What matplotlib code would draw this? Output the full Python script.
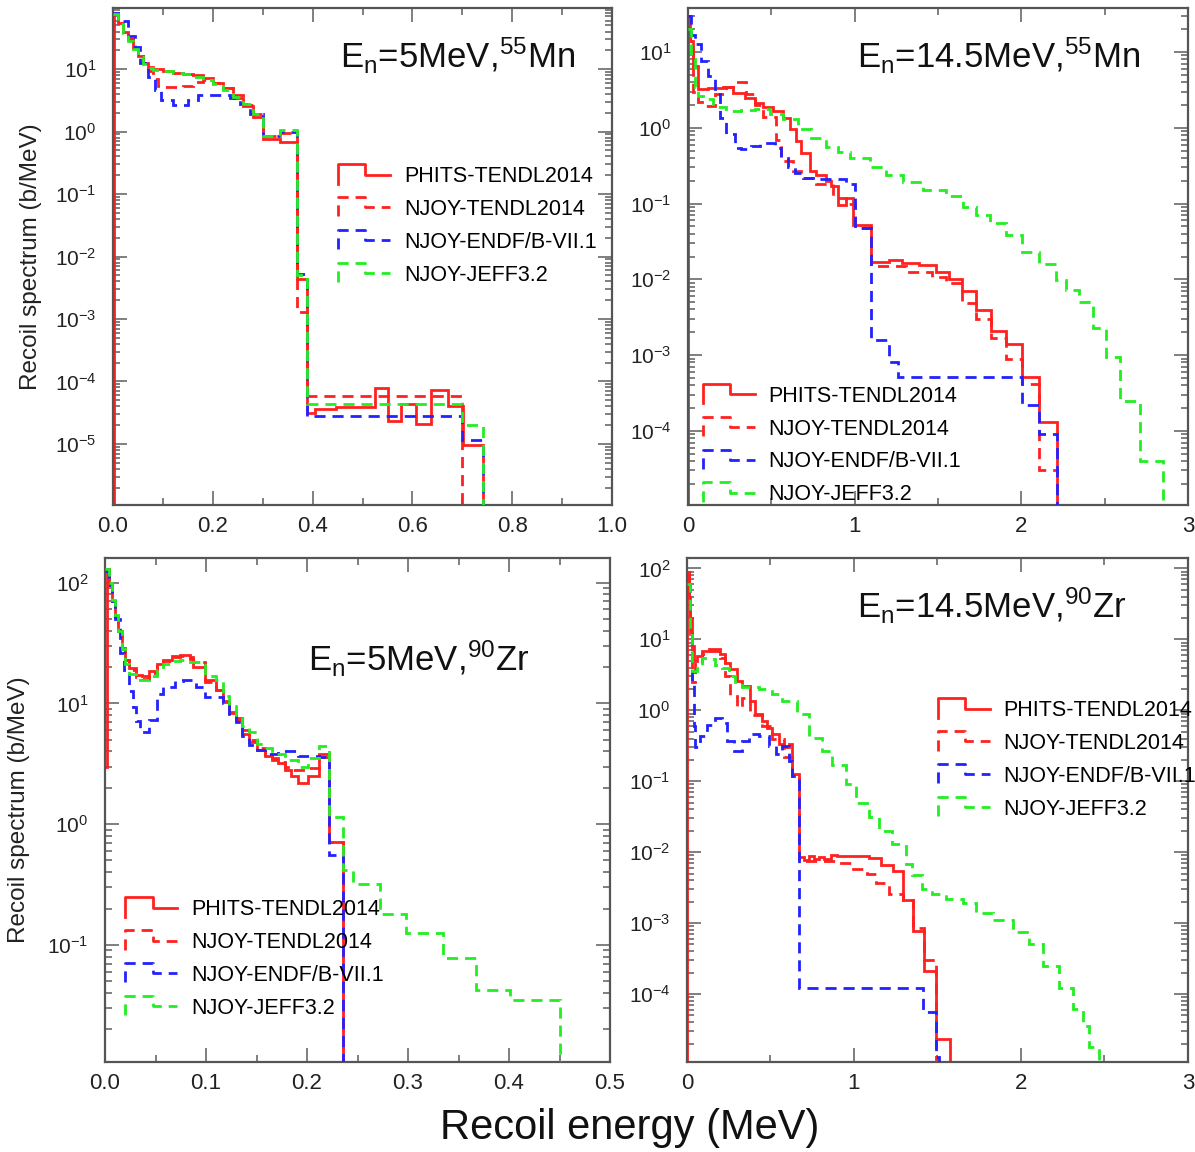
import numpy as np
import matplotlib
matplotlib.use("Agg")
import matplotlib.pyplot as plt
from matplotlib.lines import Line2D
from matplotlib.legend_handler import HandlerBase
from matplotlib.ticker import LogLocator, MultipleLocator, NullFormatter

plt.rcParams["font.family"] = ["Liberation Sans", "DejaVu Sans"]
plt.rcParams["mathtext.default"] = "regular"

labels = ["PHITS-TENDL2014", "NJOY-TENDL2014", "NJOY-ENDF/B-VII.1", "NJOY-JEFF3.2"]
colors = ["#ff2020", "#ff2020", "#2222ff", "#22ee22"]

# ---- En = 5 MeV, 55Mn -------------------------------------------------------
mn5_phits_e = [0, 0.001, 0.01, 0.02, 0.03, 0.04, 0.05, 0.06, 0.07, 0.08,
               0.10, 0.12, 0.14, 0.16, 0.18, 0.20, 0.22, 0.24, 0.26, 0.28,
               0.30, 0.335, 0.368, 0.388, 0.404, 0.447, 0.524, 0.551, 0.578, 0.608,
               0.638, 0.671, 0.701, 0.741, 0.76]
mn5_phits_v = [0, 80, 55, 40, 30, 22, 16, 12.5, 11, 10,
               9.2, 8.8, 8.4, 8.2, 7.2, 6.0, 5.0, 3.5, 2.6, 1.7,
               0.77, 0.67, 0.0044, 3.1e-5, 3.6e-5, 3.9e-5, 7.8e-5, 2.3e-5, 4.3e-5, 2.1e-5,
               7.4e-5, 4.0e-5, 9.5e-6, 0]
mn5_tendl_e = [0, 0.01, 0.02, 0.03, 0.04, 0.05, 0.06, 0.07, 0.08, 0.09, 0.10,
               0.12, 0.14, 0.16, 0.18, 0.20, 0.22, 0.24, 0.26, 0.28, 0.30,
               0.335, 0.368, 0.388, 0.70, 0.76]
mn5_tendl_v = [80, 55, 40, 30, 22, 16, 12.5, 9.5, 7.0, 5.3,
               5.2, 5.2, 5.4, 6.3, 6.8, 6.0, 5.0, 3.8, 2.7, 1.9,
               0.85, 0.95, 1.3e-3, 5.8e-5, 0]
mn5_endf_e = [0, 0.01, 0.02, 0.03, 0.044, 0.054, 0.07, 0.084, 0.097, 0.12,
              0.15, 0.17, 0.207, 0.234, 0.254, 0.274, 0.30, 0.335, 0.368, 0.388,
              0.70, 0.741, 0.76]
mn5_endf_v = [80, 62, 60, 34, 23, 12.4, 7.5, 4.6, 3.2, 2.7,
              3.2, 3.8, 3.9, 3.5, 2.8, 1.9, 0.85, 1.0, 0.0052, 2.8e-5,
              1.15e-5, 0]
mn5_jeff_e = [0, 0.01, 0.02, 0.03, 0.04, 0.05, 0.06, 0.07, 0.08, 0.10,
              0.12, 0.14, 0.16, 0.18, 0.20, 0.22, 0.24, 0.26, 0.28, 0.30,
              0.335, 0.368, 0.388, 0.70, 0.741, 0.76]
mn5_jeff_v = [75, 52, 38, 28, 21, 15.5, 12, 10.5, 9.8, 9.2,
              8.8, 8.4, 7.6, 6.8, 5.8, 4.7, 3.6, 2.8, 1.9, 0.85,
              1.05, 0.0050, 4.4e-5, 2.0e-5, 0]

# ---- En = 14.5 MeV, 55Mn ----------------------------------------------------
mn14_phits_e = [0, 0.002, 0.015, 0.03, 0.06, 0.12, 0.21, 0.27, 0.34, 0.40,
                0.45, 0.51, 0.57, 0.61, 0.65, 0.68, 0.73, 0.77, 0.83, 0.86,
                0.90, 0.95, 0.99, 1.096, 1.206, 1.286, 1.386, 1.486, 1.566, 1.646,
                1.726, 1.816, 1.906, 2.006, 2.106, 2.216, 2.3]
mn14_phits_v = [0, 30, 14, 6.5, 3.2, 3.3, 3.4, 2.9, 2.5, 2.1,
                1.9, 1.66, 1.36, 0.95, 0.67, 0.47, 0.27, 0.24, 0.20, 0.17,
                0.096, 0.12, 0.052, 0.017, 0.018, 0.0165, 0.0155, 0.0126, 0.010, 0.0071,
                0.0039, 0.0021, 0.0014, 5.1e-4, 1.3e-4, 0]
mn14_tendl_e = [0, 0.015, 0.03, 0.06, 0.10, 0.16, 0.23, 0.27, 0.35, 0.40,
                0.45, 0.53, 0.56, 0.63, 0.68, 0.77, 0.87, 0.95, 1.0, 1.096,
                1.306, 1.466, 1.546, 1.646, 1.726, 1.816, 1.906, 2.006, 2.106, 2.216,
                2.3]
mn14_tendl_v = [30, 14, 3.0, 2.2, 1.95, 2.8, 3.4, 4.0, 2.8, 2.0,
                1.4, 0.7, 0.36, 0.27, 0.22, 0.18, 0.12, 0.10, 0.047, 0.0148,
                0.0126, 0.0107, 0.0089, 0.0048, 0.003, 0.0017, 9e-4, 4.2e-4, 3e-5, 0]
mn14_endf_e = [0, 0.02, 0.04, 0.08, 0.12, 0.16, 0.19, 0.23, 0.28, 0.32,
               0.38, 0.43, 0.52, 0.56, 0.60, 0.64, 0.69, 0.75, 0.95, 1.0,
               1.096, 1.206, 1.26, 2.006, 2.106, 2.216, 2.3]
mn14_endf_v = [30, 17, 12.7, 7.6, 4.8, 2.8, 1.36, 0.82, 0.54, 0.52,
               0.57, 0.63, 0.54, 0.40, 0.30, 0.25, 0.22, 0.21, 0.18, 0.048,
               0.0016, 8e-4, 5.1e-4, 2.2e-4, 9e-5, 0]
mn14_jeff_e = [0, 0.02, 0.04, 0.06, 0.09, 0.15, 0.23, 0.32, 0.40, 0.49,
               0.57, 0.66, 0.74, 0.83, 0.90, 0.97, 1.09, 1.19, 1.29, 1.41,
               1.55, 1.65, 1.73, 1.81, 1.906, 2.006, 2.106, 2.206, 2.266, 2.346,
               2.43, 2.51, 2.59, 2.71, 2.85, 2.95]
mn14_jeff_v = [20, 8, 3.5, 2.6, 2.4, 1.9, 1.66, 1.7, 1.75, 1.5,
               1.29, 0.95, 0.74, 0.55, 0.48, 0.40, 0.30, 0.24, 0.19, 0.15,
               0.125, 0.09, 0.07, 0.055, 0.039, 0.023, 0.016, 0.0098, 0.0073, 0.005,
               0.0023, 9.5e-4, 2.5e-4, 4e-5, 0]

# ---- En = 5 MeV, 90Zr -------------------------------------------------------
zr5_phits_e = [0, 0.0015, 0.004, 0.007, 0.010, 0.013, 0.0165, 0.020, 0.024, 0.031,
               0.037, 0.044, 0.051, 0.057, 0.066, 0.074, 0.084, 0.087, 0.0985, 0.110,
               0.117, 0.123, 0.130, 0.136, 0.143, 0.150, 0.158, 0.165, 0.171, 0.178,
               0.184, 0.191, 0.201, 0.212, 0.222, 0.2355, 0.25]
zr5_phits_v = [3, 130, 95, 70, 52, 40, 28, 23, 19.6, 17.3,
               17, 18.5, 21, 23, 24.8, 25, 23.5, 20, 15.5, 12.9,
               10.3, 8.3, 7.3, 5.6, 4.8, 4.1, 3.7, 3.4, 3.2, 2.8,
               2.5, 2.2, 2.5, 3.8, 0.71, 0]
zr5_tendl_e = [0, 0.004, 0.007, 0.010, 0.013, 0.0165, 0.020, 0.024, 0.031, 0.037,
               0.044, 0.051, 0.057, 0.066, 0.074, 0.084, 0.087, 0.0985, 0.110, 0.117,
               0.123, 0.130, 0.136, 0.143, 0.150, 0.158, 0.165, 0.171, 0.178, 0.184,
               0.191, 0.201, 0.212, 0.222, 0.2355, 0.25]
zr5_tendl_v = [125, 95, 70, 52, 40, 29, 23, 19, 16.5, 16,
               18, 20.5, 22.5, 24, 24.5, 24, 22, 15, 13, 10.5,
               8.5, 7.5, 6.0, 5.0, 4.3, 3.8, 3.5, 3.3, 3.0, 2.8,
               2.8, 2.9, 3.6, 0.71, 0]
zr5_endf_e = [0, 0.004, 0.007, 0.010, 0.0144, 0.019, 0.024, 0.0276, 0.031, 0.035,
              0.044, 0.051, 0.057, 0.069, 0.077, 0.090, 0.0985, 0.117, 0.123, 0.130,
              0.136, 0.143, 0.150, 0.158, 0.171, 0.191, 0.212, 0.222, 0.2355, 0.25]
zr5_endf_v = [125, 95, 70, 50, 26, 19, 12.6, 9.4, 7.1, 5.8,
              7.3, 12, 13.7, 15.2, 15.5, 13.7, 11.4, 10, 8.2, 7.0,
              5.4, 4.5, 4.1, 3.8, 4.0, 3.7, 3.6, 0.55, 0]
zr5_jeff_e = [0, 0.004, 0.007, 0.010, 0.013, 0.0165, 0.020, 0.024, 0.031, 0.037,
              0.044, 0.051, 0.057, 0.066, 0.074, 0.084, 0.0985, 0.110, 0.117, 0.123,
              0.130, 0.136, 0.143, 0.150, 0.158, 0.165, 0.178, 0.191, 0.201, 0.212,
              0.222, 0.2355, 0.2454, 0.2718, 0.298, 0.3345, 0.3675, 0.4005, 0.45, 0.47]
zr5_jeff_v = [130, 100, 72, 54, 40, 28, 21, 17.5, 15.5, 15.5,
              17, 19, 21, 22.5, 23, 22, 17, 15.5, 11.5, 9.5,
              8.0, 6.5, 5.8, 4.6, 4.3, 3.8, 3.4, 3.0, 3.5, 4.4,
              1.15, 0.42, 0.32, 0.18, 0.125, 0.078, 0.042, 0.035, 0]

# ---- En = 14.5 MeV, 90Zr ----------------------------------------------------
zr14_phits_e = [0, 0.002, 0.01, 0.02, 0.03, 0.04, 0.06, 0.09, 0.13, 0.20,
                0.23, 0.26, 0.30, 0.33, 0.38, 0.41, 0.45, 0.48, 0.51, 0.55,
                0.58, 0.61, 0.63, 0.672, 0.70, 0.73, 0.76, 0.79, 0.82, 0.86,
                0.90, 1.092, 1.162, 1.232, 1.292, 1.352, 1.422, 1.492, 1.572, 1.65]
zr14_phits_v = [0, 90, 40, 20, 8, 4.9, 5.8, 6.9, 7.2, 6.2,
                4.7, 3.8, 2.6, 2.2, 1.35, 0.88, 0.71, 0.57, 0.46, 0.33,
                0.30, 0.33, 0.125, 0.0085, 0.0078, 0.0088, 0.0080, 0.0086, 0.0079, 0.0090,
                0.0087, 0.0082, 0.0066, 0.0055, 0.0021, 7.8e-4, 2.1e-4, 2.3e-5, 0]
zr14_tendl_e = [0, 0.01, 0.02, 0.03, 0.05, 0.09, 0.13, 0.20, 0.23, 0.26,
                0.30, 0.33, 0.38, 0.45, 0.51, 0.58, 0.63, 0.672, 0.90, 0.98,
                1.08, 1.13, 1.21, 1.292, 1.352, 1.422, 1.492, 1.55]
zr14_tendl_v = [90, 35, 12, 2.5, 5.0, 6.2, 6.8, 5.5, 3.0, 1.6,
                1.1, 1.5, 0.85, 0.6, 0.4, 0.22, 0.11, 0.0076, 0.0071, 0.0057,
                0.0049, 0.0037, 0.0026, 0.0021, 8.5e-4, 3e-4, 0]
zr14_endf_e = [0, 0.02, 0.03, 0.04, 0.05, 0.08, 0.12, 0.17, 0.21, 0.24,
               0.28, 0.33, 0.37, 0.43, 0.49, 0.53, 0.57, 0.61, 0.63, 0.672,
               1.412, 1.492, 1.51, 1.55]
zr14_endf_v = [60, 12, 2.5, 0.6, 0.30, 0.43, 0.63, 0.79, 0.67, 0.37,
               0.27, 0.37, 0.46, 0.43, 0.31, 0.24, 0.31, 0.19, 0.12, 1.2e-4,
               5.5e-5, 1.3e-5, 0]
zr14_jeff_e = [0, 0.02, 0.03, 0.06, 0.09, 0.13, 0.17, 0.21, 0.25, 0.29,
               0.33, 0.43, 0.51, 0.57, 0.66, 0.73, 0.81, 0.87, 0.95, 1.01,
               1.09, 1.15, 1.23, 1.31, 1.35, 1.41, 1.47, 1.55, 1.65, 1.73,
               1.83, 1.95, 2.05, 2.13, 2.23, 2.31, 2.37, 2.41, 2.47, 2.55]
zr14_jeff_v = [60, 15, 3.6, 4.2, 5.5, 5.2, 4.4, 4.0, 3.0, 2.5,
               2.1, 2.0, 1.7, 1.35, 0.88, 0.41, 0.27, 0.17, 0.091, 0.050,
               0.031, 0.020, 0.013, 0.0068, 0.0047, 0.003, 0.0026, 0.0022, 0.0019, 0.0014,
               0.0011, 7.4e-4, 5e-4, 2.5e-4, 1.2e-4, 6.2e-5, 3.6e-5, 1.8e-5, 0]

titles = [r"E$_n$=5MeV,$^{55}$Mn", r"E$_n$=14.5MeV,$^{55}$Mn",
          r"E$_n$=5MeV,$^{90}$Zr", r"E$_n$=14.5MeV,$^{90}$Zr"]

DASH = (0, (4, 2.5))
LW = 2.0


class StepHandler(HandlerBase):
    """Legend glyph drawn as a little histogram step."""

    def create_artists(self, legend, orig_handle, xdescent, ydescent,
                       width, height, fontsize, trans):
        x0, y0 = -xdescent, -ydescent
        mid = y0 + height / 2
        xs = [x0, x0, x0 + 0.53 * width, x0 + 0.53 * width, x0 + width]
        ys = [mid - 0.42 * fontsize, mid + 0.48 * fontsize,
              mid + 0.48 * fontsize, mid, mid]
        line = Line2D(xs, ys)
        line.update_from(orig_handle)
        line.set_transform(trans)
        return [line]


fig = plt.figure(figsize=(11.95, 11.52), dpi=100)

# axes rectangles in figure fraction (left, bottom, width, height)
rects = [(0.0946, 0.5616, 0.4176, 0.4314),
         (0.5757, 0.5616, 0.4184, 0.4314),
         (0.0879, 0.0781, 0.4226, 0.4375),
         (0.5749, 0.0781, 0.4192, 0.4375)]

series = [
    [(mn5_phits_e, mn5_phits_v), (mn5_tendl_e, mn5_tendl_v),
     (mn5_endf_e, mn5_endf_v), (mn5_jeff_e, mn5_jeff_v)],
    [(mn14_phits_e, mn14_phits_v), (mn14_tendl_e, mn14_tendl_v),
     (mn14_endf_e, mn14_endf_v), (mn14_jeff_e, mn14_jeff_v)],
    [(zr5_phits_e, zr5_phits_v), (zr5_tendl_e, zr5_tendl_v),
     (zr5_endf_e, zr5_endf_v), (zr5_jeff_e, zr5_jeff_v)],
    [(zr14_phits_e, zr14_phits_v), (zr14_tendl_e, zr14_tendl_v),
     (zr14_endf_e, zr14_endf_v), (zr14_jeff_e, zr14_jeff_v)],
]

xlims = [(0, 1.0), (0, 3.0), (0, 0.5), (0, 3.0)]
ylims = [(1.05e-6, 95), (1.05e-5, 38), (0.0107, 160), (1.1e-5, 140)]
xmajor = [0.2, 1, 0.1, 1]
xminor = [0.1, 0.5, 0.05, 0.5]
xfmt = ["%.1f", "%d", "%.1f", "%d"]
title_pos = [(0.455, 0.903), (0.338, 0.903), (0.402, 0.80), (0.34, 0.905)]
legend_pos = [(0.451, 0.682), (0.030, 0.240), (0.040, 0.323), (0.501, 0.718)]

proxies = [Line2D([], [], color=colors[0], lw=LW, linestyle="-"),
           Line2D([], [], color=colors[1], lw=LW, linestyle=DASH),
           Line2D([], [], color=colors[2], lw=LW, linestyle=DASH),
           Line2D([], [], color=colors[3], lw=LW, linestyle=DASH)]

for i, rect in enumerate(rects):
    ax = fig.add_axes(rect)
    ax.set_yscale("log")
    for k, (edges, vals) in enumerate(series[i]):
        ls = "-" if k == 0 else DASH
        ax.stairs(vals, edges, baseline=None, color=colors[k],
                  lw=LW, linestyle=ls, zorder=2 + k)
    ax.set_xlim(*xlims[i])
    ax.set_ylim(*ylims[i])

    ax.xaxis.set_major_locator(MultipleLocator(xmajor[i]))
    ax.xaxis.set_minor_locator(MultipleLocator(xminor[i]))
    ax.xaxis.set_major_formatter(plt.FormatStrFormatter(xfmt[i]))
    ax.yaxis.set_major_locator(LogLocator(base=10, numticks=30))
    ax.yaxis.set_minor_locator(LogLocator(base=10, subs=np.arange(2, 10), numticks=30))
    ax.yaxis.set_minor_formatter(NullFormatter())

    ax.tick_params(which="both", direction="in", top=True, right=True,
                   color="#6a6a6a", width=1.2)
    ax.tick_params(which="major", length=10)
    ax.tick_params(which="minor", length=5)
    ax.tick_params(axis="x", labelsize=16, pad=8, labelcolor="#222222")
    ax.tick_params(axis="y", labelsize=15, pad=12, labelcolor="#222222")
    for sp in ax.spines.values():
        sp.set_color("#555555")
        sp.set_linewidth(1.6)

    ax.text(title_pos[i][0], title_pos[i][1], titles[i], transform=ax.transAxes,
            fontsize=25, ha="left", va="center", color="#111111")

    ax.legend(handles=proxies, labels=labels, handler_map={Line2D: StepHandler()},
              loc="upper left", bbox_to_anchor=legend_pos[i], frameon=False,
              fontsize=15.5, handlelength=2.4, handletextpad=0.65,
              labelspacing=0.55, borderpad=0, borderaxespad=0)

    if i in (0, 2):
        ax.set_ylabel("Recoil spectrum (b/MeV)", fontsize=17.5, color="#222222")
        ax.yaxis.set_label_coords(-0.142 if i == 0 else -0.149, 0.5)

fig.text(0.527, 0.0208, "Recoil energy (MeV)", fontsize=30,
         ha="center", va="center", color="#111111")

fig.savefig("out.png", dpi=100)
